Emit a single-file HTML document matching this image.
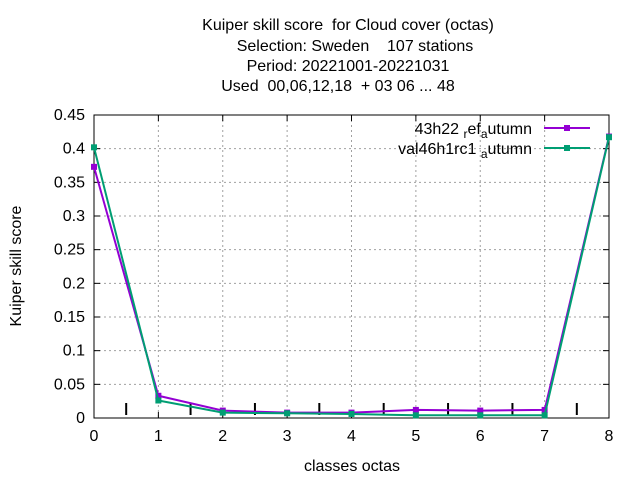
<!DOCTYPE html>
<html><head><meta charset="utf-8"><style>
body{margin:0;background:#fff}
svg{font-family:"Liberation Sans",sans-serif}
text{white-space:pre}
</style></head><body>
<svg id="c" width="640" height="480">
<g font-size="16" text-anchor="middle" fill="#000">
<text x="348" y="30">Kuiper skill score  for Cloud cover (octas)</text>
<text x="355" y="51">Selection: Sweden    107 stations</text>
<text x="348" y="71">Period: 20221001-20221031</text>
<text x="338" y="91">Used  00,06,12,18  + 03 06 ... 48</text>
</g>
<g id="grid"></g>
<g id="axes"></g>
<g id="series"></g>
<text x="352" y="471" font-size="16" text-anchor="middle">classes octas</text>
<text transform="translate(21,266) rotate(-90)" font-size="16" text-anchor="middle">Kuiper skill score</text>
<g font-size="16" text-anchor="end">
<text x="532" y="134">43h22 <tspan font-size="12" dy="4">r</tspan><tspan dy="-4">ef</tspan><tspan font-size="12" dy="4">a</tspan><tspan dy="-4">utumn</tspan></text>
<line x1="544" y1="128" x2="590" y2="128" stroke="#9400d3" stroke-width="2"/>
<rect x="564" y="125" width="6" height="6" fill="#9400d3"/>
<text x="532" y="154">val46h1rc1 <tspan font-size="12" dy="4">a</tspan><tspan dy="-4">utumn</tspan></text>
<line x1="544" y1="148" x2="590" y2="148" stroke="#009e73" stroke-width="2"/>
<rect x="564" y="145" width="6" height="6" fill="#009e73"/>
</g>
</svg>
<script>
const categories=[0,1,2,3,4,5,6,7,8];
const refValues=[0.373,0.033,0.011,0.008,0.008,0.012,0.011,0.012,0.418];
const valValues=[0.402,0.026,0.008,0.007,0.006,0.004,0.004,0.004,0.417];
const yTicks=[0,0.05,0.1,0.15,0.2,0.25,0.3,0.35,0.4,0.45];
const yTickLabels=["0","0.05","0.1","0.15","0.2","0.25","0.3","0.35","0.4","0.45"];
const halfTicks=[0.5,1.5,2.5,3.5,4.5,5.5,6.5,7.5];
const L=94,R=609,T=115,B=418;
const sx=v=>L+(R-L)*v/8, sy=v=>B-(B-T)*v/0.45;
const NS="http://www.w3.org/2000/svg";
function mk(p,t,a){const e=document.createElementNS(NS,t);for(const k in a)e.setAttribute(k,a[k]);p.appendChild(e);return e;}
const g=document.getElementById('grid'),ax=document.getElementById('axes'),s=document.getElementById('series');
yTicks.forEach((v,i)=>{
 if(i>0&&i<yTicks.length-1){const l=mk(g,'line',{x1:L,x2:R,y1:sy(v),y2:sy(v),stroke:'#a0a0a0','stroke-dasharray':'2,3'});
 
 }
 const t=mk(ax,'text',{x:L-9,y:sy(v)+5,'text-anchor':'end','font-size':16});t.textContent=yTickLabels[i];
 
 
 mk(ax,'line',{x1:L,x2:L+6,y1:sy(v),y2:sy(v),stroke:'#000'});
 mk(ax,'line',{x1:R,x2:R-6,y1:sy(v),y2:sy(v),stroke:'#000'});
});
categories.forEach(c=>{
 if(c>0&&c<8){const l=mk(g,'line',{x1:sx(c),x2:sx(c),y1:T,y2:B,stroke:'#a0a0a0','stroke-dasharray':'2,3'});
 
 }
 const t=mk(ax,'text',{x:sx(c),y:B+23,'text-anchor':'middle','font-size':16});t.textContent=c;
 
 
 mk(ax,'line',{x1:sx(c),x2:sx(c),y1:B,y2:B-6,stroke:'#000'});
 mk(ax,'line',{x1:sx(c),x2:sx(c),y1:T,y2:T+6,stroke:'#000'});
});
halfTicks.forEach(h=>{
 const l=mk(ax,'line',{x1:sx(h),x2:sx(h),y1:B-15,y2:B-3,stroke:'#000','stroke-width':2});
 
 
});
const fr=mk(ax,'rect',{x:L,y:T,width:R-L,height:B-T,fill:'none',stroke:'#000'});


[[refValues,'#9400d3','ref'],[valValues,'#009e73','val']].forEach(([vals,col,n])=>{
 const pl=mk(s,'polyline',{points:vals.map((v,i)=>sx(categories[i])+','+sy(v)).join(' '),fill:'none',stroke:col,'stroke-width':2});
 
 
 vals.forEach((v,i)=>{
  const r=mk(s,'rect',{x:sx(categories[i])-3,y:sy(v)-3,width:6,height:6,fill:col});
  
  
 });
});
</script>
</body></html>
